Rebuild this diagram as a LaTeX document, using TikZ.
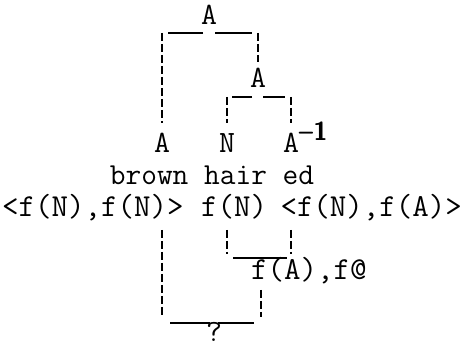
\documentclass[tikz,border=0pt]{standalone}
\usepackage{tikz}
\usetikzlibrary{calc}

\begin{document}
\begin{tikzpicture}[
    x=1pt, y=1pt,
    cat node/.style={inner sep=0pt,anchor=base,font=\fontsize{31}{36}\selectfont\ttfamily},
    word node/.style={inner sep=0pt,anchor=base,font=\fontsize{30.5}{36}\selectfont\ttfamily},
    form node/.style={inner sep=0pt,font=\fontsize{32}{38}\selectfont\ttfamily},
    hline/.style={line width=1.7pt},
    vline/.style={line width=2pt,dash pattern=on 8pt off 3pt}
]
\useasboundingbox (0,0) rectangle (463,348);

% Category tree
\node[cat node] (topA) at (209,323) {A};
\node[cat node] (secA) at (258,260) {A};
\node[cat node] (catA) at (162,195) {A};
\node[cat node] (catN) at (227,195) {N};
\node[cat node] (catAinv) at (291,195) {A\rlap{\raisebox{12pt}{\fontsize{26}{30}\selectfont\sffamily\bfseries --1}}};

% Words
\node[word node] (words) at (212,163) {brown hair ed};

% Semantic forms
\node[form node,anchor=base west] (pairL) at (2,131) {<f(N),f(N)>};
\node[form node,anchor=base west] (midN) at (201,131) {f(N)};
\node[form node,anchor=base east] (pairR) at (462,131) {<f(N),f(A)>};
\node[form node,anchor=base west] (fA) at (251,68) {f(A),f@};
\node[cat node] (qmark) at (214,6) {?};
\coordinate (fAdrop) at ($(fA.base west)+(10,0)$);

% Upper brackets
\draw[hline] ($(topA.base)+(-6,-8)$) -- ($(topA.base -| catA)+(6,-8)$);
\draw[hline] ($(topA.base)+(6,-8)$) -- ($(topA.base -| secA)+(-6,-8)$);
\draw[vline] ($(topA.base -| catA)+(0,-8)$) -- ($(catA.base)+(0,30)$);
\draw[vline] ($(topA.base -| secA)+(0,-8)$) -- ($(secA.base)+(0,26)$);
\draw[hline] ($(secA.base)+(-6,-9)$) -- ($(secA.base -| catN)+(5,-9)$);
\draw[hline] ($(secA.base)+(5,-9)$) -- ($(secA.base -| catAinv)+(-6,-9)$);
\draw[vline] ($(secA.base -| catN)+(0,-9)$) -- ($(catN.base)+(0,30)$);
\draw[vline] ($(secA.base -| catAinv)+(0,-9)$) -- ($(catAinv.base)+(0,30)$);

% Lower brackets
\draw[vline] ($(pairL.base -| catA)+(0,-13)$) -- ($(qmark.base -| catA)+(0,25)$);
\draw[vline] ($(midN.base -| catN)+(0,-13)$) -- ($(fA.base -| catN)+(0,26)$);
\draw[vline] ($(pairR.base -| catAinv)+(0,-13)$) -- ($(fA.base -| catAinv)+(0,26)$);
\draw[hline] ($(fA.base -| catN)+(6,22)$) -- ($(fA.base -| catAinv)+(-4,22)$);
\draw[vline] ($(fAdrop)+(0,-10)$) -- ($(fAdrop |- qmark.base)+(0,25)$);
\draw[hline] ($(qmark.base -| catA)+(8,19)$) -- ($(qmark.base)+(-4,19)$);
\draw[hline] ($(qmark.base)+(4,19)$) -- ($(fAdrop |- qmark.base)+(-7,19)$);

\end{tikzpicture}
\end{document}
